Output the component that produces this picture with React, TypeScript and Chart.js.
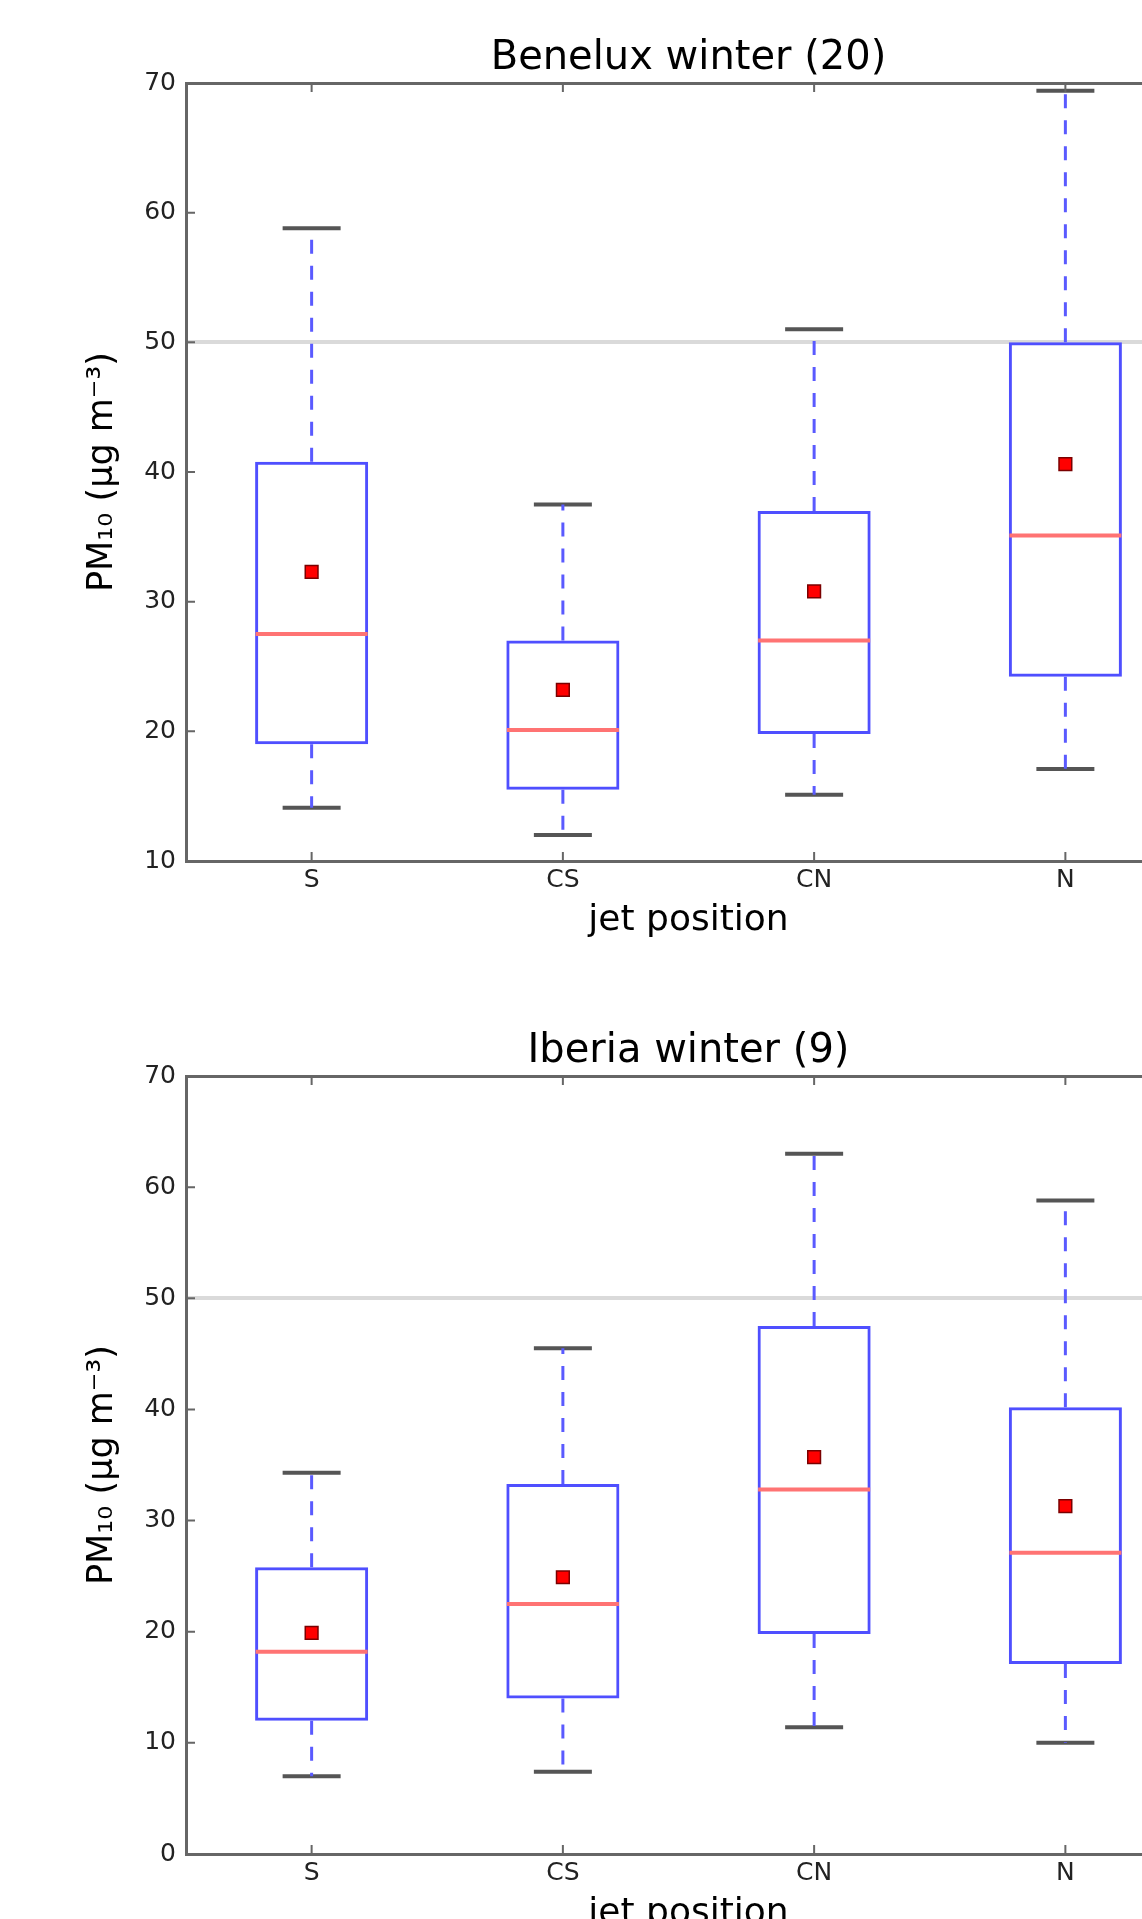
import React, { useEffect, useRef } from 'react';
import { Chart, registerables } from 'chart.js';

Chart.register(...registerables);

// ---------- data ----------
const categories = ['S', 'CS', 'CN', 'N'];
const limitValue = 50;
const xAxisLabel = 'jet position';
const yAxisLabel = 'PM₁₀ (μg m⁻³)';

const beneluxTitle = 'Benelux winter (20)';
const beneluxTicks = [10, 20, 30, 40, 50, 60, 70];
const beneluxLow = [14.1, 12.0, 15.1, 17.1];
const beneluxQ1 = [19.0, 15.5, 19.8, 24.2];
const beneluxMedian = [27.5, 20.1, 27.0, 35.1];
const beneluxQ3 = [40.8, 27.0, 37.0, 50.0];
const beneluxHigh = [58.8, 37.5, 51.0, 69.4];
const beneluxMean = [32.3, 23.2, 30.8, 40.6];

const iberiaTitle = 'Iberia winter (9)';
const iberiaTicks = [0, 10, 20, 30, 40, 50, 60, 70];
const iberiaLow = [7.0, 7.4, 11.4, 10.0];
const iberiaQ1 = [12.0, 14.0, 19.8, 17.1];
const iberiaMedian = [18.2, 22.5, 32.8, 27.1];
const iberiaQ3 = [25.8, 33.3, 47.5, 40.2];
const iberiaHigh = [34.3, 45.5, 63.0, 58.8];
const iberiaMean = [19.9, 24.9, 35.7, 31.3];

// ---------- styling ----------
const FONT = 'DejaVu Sans';
const AXIS_COLOR = '#666666';
const BOX_COLOR = '#4f4fff';
const WHISKER_COLOR = '#5a5aff';
const MEDIAN_COLOR = '#ff7373';
const CAP_COLOR = '#555555';
const CANVAS_W = 1251;
const CANVAS_H = 951;

const innerTicks = {
  id: 'innerTicks',
  afterDraw(chart: any) {
    const { ctx, chartArea, scales } = chart;
    ctx.save();
    ctx.strokeStyle = AXIS_COLOR;
    ctx.lineWidth = 2;
    const ys = scales.y;
    ys.ticks.forEach((_t: any, i: number) => {
      const py = ys.getPixelForTick(i);
      ctx.beginPath();
      ctx.moveTo(chartArea.left, py);
      ctx.lineTo(chartArea.left + 9, py);
      ctx.moveTo(chartArea.right, py);
      ctx.lineTo(chartArea.right - 9, py);
      ctx.stroke();
    });
    const xs = scales.x;
    xs.ticks.forEach((_t: any, i: number) => {
      const px = xs.getPixelForTick(i);
      ctx.beginPath();
      ctx.moveTo(px, chartArea.bottom);
      ctx.lineTo(px, chartArea.bottom - 9);
      ctx.moveTo(px, chartArea.top);
      ctx.lineTo(px, chartArea.top + 9);
      ctx.stroke();
    });
    ctx.restore();
  },
};

type Panel = {
  title: string;
  ticks: number[];
  low: number[];
  q1: number[];
  median: number[];
  q3: number[];
  high: number[];
  mean: number[];
};

function makeConfig(p: Panel): any {
  const whiskers = categories.flatMap((c, i) => [
    { x: c, y: p.q1[i] },
    { x: c, y: p.low[i] },
    { x: c, y: null },
    { x: c, y: p.q3[i] },
    { x: c, y: p.high[i] },
    { x: c, y: null },
  ]);
  const caps = categories.flatMap((c, i) => [
    { x: c, y: p.low[i] },
    { x: c, y: p.high[i] },
  ]);
  return {
    type: 'bar',
    data: {
      labels: categories,
      datasets: [
        {
          type: 'line',
          label: 'mean',
          data: p.mean,
          showLine: false,
          pointStyle: 'rect',
          pointRadius: 9,
          pointBackgroundColor: '#ff0000',
          pointBorderColor: '#7a0000',
          pointBorderWidth: 1.5,
          order: 0,
        },
        {
          type: 'line',
          label: 'median',
          data: p.median,
          showLine: false,
          pointStyle: 'line',
          pointRadius: 56,
          pointBorderColor: MEDIAN_COLOR,
          pointBorderWidth: 4,
          order: 1,
        },
        {
          type: 'bar',
          label: 'box',
          data: p.q1.map((v, i) => [v, p.q3[i]]),
          backgroundColor: 'rgba(0,0,0,0)',
          borderColor: BOX_COLOR,
          borderWidth: 3,
          borderSkipped: false,
          barPercentage: 0.45,
          categoryPercentage: 1,
          order: 2,
        },
        {
          type: 'line',
          label: 'whiskers',
          data: whiskers,
          borderColor: WHISKER_COLOR,
          borderWidth: 3,
          borderDash: [14, 12],
          pointRadius: 0,
          spanGaps: false,
          fill: false,
          order: 3,
        },
        {
          type: 'line',
          label: 'caps',
          data: caps,
          showLine: false,
          pointStyle: 'line',
          pointRadius: 29,
          pointBorderColor: CAP_COLOR,
          pointBorderWidth: 4,
          order: 4,
        },
      ],
    },
    options: {
      responsive: false,
      animation: false,
      devicePixelRatio: 1,
      events: [],
      layout: { padding: { left: 0, right: 0, top: 0, bottom: 0 } },
      plugins: {
        legend: { display: false },
        tooltip: { enabled: false },
        title: {
          display: true,
          text: p.title,
          fullSize: false,
          color: '#000000',
          font: { family: FONT, size: 40, weight: 'normal' },
          padding: { top: 35, bottom: 0 },
        },
      },
      scales: {
        x: {
          type: 'category',
          position: 'bottom',
          offset: true,
          afterFit: (s: any) => {
            s.height = 90;
          },
          grid: { color: 'rgba(0,0,0,0)', drawTicks: false },
          border: { display: true, color: AXIS_COLOR, width: 3 },
          ticks: {
            color: '#222222',
            padding: 4,
            font: { family: FONT, size: 25 },
          },
          title: {
            display: true,
            text: xAxisLabel,
            color: '#000000',
            font: { family: FONT, size: 36 },
            padding: { top: 0, bottom: 9 },
          },
        },
        x2: {
          type: 'category',
          position: 'top',
          offset: true,
          afterFit: (s: any) => {
            s.height = 0;
          },
          grid: { drawOnChartArea: false, drawTicks: false, color: 'rgba(0,0,0,0)' },
          border: { display: true, color: AXIS_COLOR, width: 3 },
          ticks: { display: false },
        },
        y: {
          type: 'linear',
          position: 'left',
          min: p.ticks[0],
          max: p.ticks[p.ticks.length - 1],
          afterFit: (s: any) => {
            s.width = 186;
          },
          grid: {
            drawTicks: false,
            lineWidth: 4,
            color: (ctx: any) =>
              ctx.tick && ctx.tick.value === limitValue ? '#dadada' : 'rgba(0,0,0,0)',
          },
          border: { display: true, color: AXIS_COLOR, width: 3 },
          ticks: {
            stepSize: p.ticks[1] - p.ticks[0],
            color: '#222222',
            padding: 10,
            font: { family: FONT, size: 25 },
          },
          title: {
            display: true,
            text: yAxisLabel,
            color: '#000000',
            font: { family: FONT, size: 35 },
            padding: { top: 82, bottom: 0 },
          },
        },
      },
    },
    plugins: [innerTicks],
  };
}

const beneluxPanel: Panel = {
  title: beneluxTitle,
  ticks: beneluxTicks,
  low: beneluxLow,
  q1: beneluxQ1,
  median: beneluxMedian,
  q3: beneluxQ3,
  high: beneluxHigh,
  mean: beneluxMean,
};

const iberiaPanel: Panel = {
  title: iberiaTitle,
  ticks: iberiaTicks,
  low: iberiaLow,
  q1: iberiaQ1,
  median: iberiaMedian,
  q3: iberiaQ3,
  high: iberiaHigh,
  mean: iberiaMean,
};

function BoxPanel({ panel, top }: { panel: Panel; top: number }) {
  const ref = useRef<HTMLCanvasElement | null>(null);
  useEffect(() => {
    if (!ref.current) return;
    const chart = new Chart(ref.current, makeConfig(panel));
    return () => chart.destroy();
  }, [panel]);
  return (
    <canvas
      ref={ref}
      width={CANVAS_W}
      height={CANVAS_H}
      style={{ position: 'absolute', left: 0, top, width: CANVAS_W, height: CANVAS_H }}
    />
  );
}

export default function App() {
  return (
    <div
      style={{
        position: 'absolute',
        left: 0,
        top: 0,
        width: 1142,
        height: 1919,
        overflow: 'hidden',
        background: '#ffffff',
      }}
    >
      <BoxPanel panel={beneluxPanel} top={0} />
      <BoxPanel panel={iberiaPanel} top={993} />
    </div>
  );
}
